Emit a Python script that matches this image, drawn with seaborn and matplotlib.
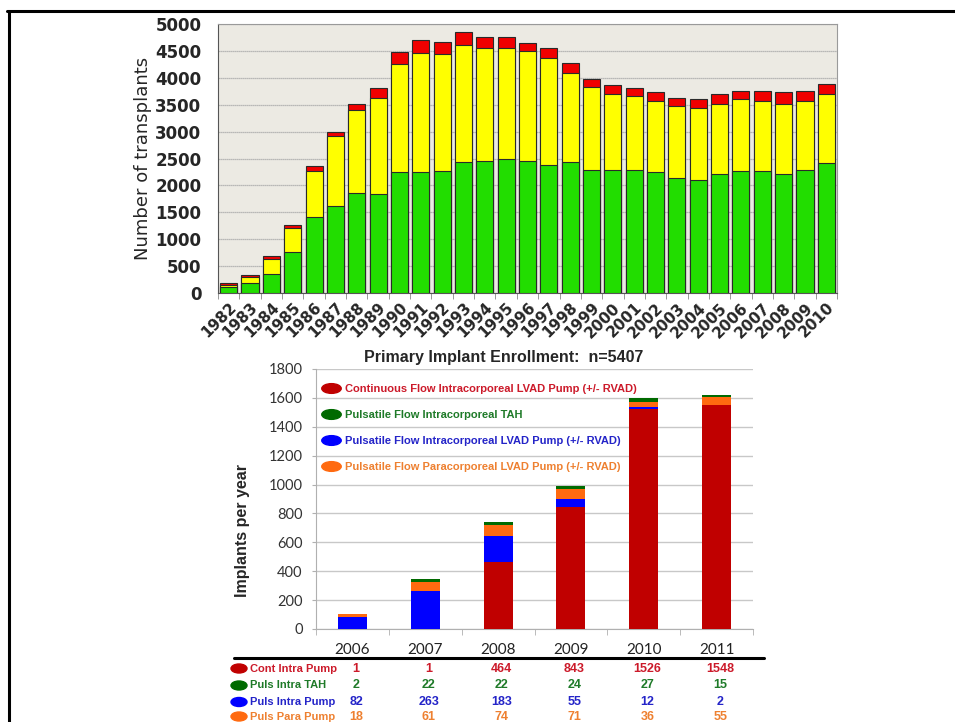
import numpy as np
import seaborn as sns
import matplotlib.pyplot as plt
from matplotlib import font_manager
from matplotlib.lines import Line2D
from matplotlib.patches import Ellipse
from matplotlib.path import Path
from matplotlib.ticker import FixedLocator, MultipleLocator
from matplotlib.transforms import blended_transform_factory

# --- Data: heart transplants per year (top panel) ---
TX_YEARS = ['1982', '1983', '1984', '1985', '1986', '1987', '1988', '1989', '1990',
            '1991', '1992', '1993', '1994', '1995', '1996', '1997', '1998', '1999',
            '2000', '2001', '2002', '2003', '2004', '2005', '2006', '2007', '2008',
            '2009', '2010']
TX_GREEN = [110, 185, 355, 760, 1415, 1625, 1850, 1845, 2250, 2250, 2270, 2440, 2460,
            2485, 2445, 2375, 2430, 2290, 2290, 2290, 2245, 2145, 2100, 2215, 2260,
            2260, 2215, 2295, 2415]
TX_YELLOW = [45, 113, 279, 457, 852, 1294, 1548, 1776, 2011, 2210, 2171, 2169, 2087,
             2068, 2046, 1993, 1667, 1534, 1404, 1373, 1326, 1333, 1334, 1306, 1341,
             1317, 1300, 1282, 1279]
TX_RED = [40, 37, 49, 44, 93, 81, 124, 193, 223, 236, 217, 236, 217, 211, 149, 177,
          185, 161, 167, 155, 160, 154, 174, 179, 161, 185, 216, 185, 186]

# --- Data: INTERMACS implants per year (bottom panel) ---
IMP_YEARS = ['2006', '2007', '2008', '2009', '2010', '2011']
CONT_INTRA_PUMP = [1, 1, 464, 843, 1526, 1548]
PULS_INTRA_TAH = [2, 22, 22, 24, 27, 15]
PULS_INTRA_PUMP = [82, 263, 183, 55, 12, 2]
PULS_PARA_PUMP = [18, 61, 74, 71, 36, 55]

LEGEND_LABELS = ['Continuous Flow Intracorporeal LVAD Pump (+/- RVAD)',
                 'Pulsatile Flow Intracorporeal TAH',
                 'Pulsatile Flow Intracorporeal LVAD Pump (+/- RVAD)',
                 'Pulsatile Flow Paracorporeal LVAD Pump (+/- RVAD)']
TABLE_LABELS = ['Cont Intra Pump', 'Puls Intra TAH', 'Puls Intra Pump', 'Puls Para Pump']

# --- Colours ---
C_GREEN, C_YELLOW, C_RED = '#22DD00', '#FFFF00', '#F00000'
C_CONT, C_TAH, C_PINTRA, C_PPARA = '#C00000', '#006A00', '#0000FF', '#FF6A10'
T_CONT, T_TAH, T_PINTRA, T_PPARA = '#CC1A2A', '#1E7A28', '#2424C8', '#EE8030'

sns.set_style('white')
installed = {f.name for f in font_manager.fontManager.ttflist}
NARROW = 'Liberation Sans Narrow' if 'Liberation Sans Narrow' in installed else 'Liberation Sans'
plt.rcParams['font.family'] = ['DejaVu Sans']

W, H = 955, 722
fig = plt.figure(figsize=(W / 100, H / 100), dpi=100)


def px_box(x0, y0, x1, y1):
    """Figure rectangle from pixel corners (top-left origin)."""
    return [x0 / W, 1 - y1 / H, (x1 - x0) / W, (y1 - y0) / H]


def stacked(ax, cats, layers, colors, width, edge, lw):
    tops = np.cumsum(np.array(layers, dtype=float), axis=0)
    for top, col in reversed(list(zip(tops, colors))):
        sns.barplot(x=cats, y=top, color=col, width=width, saturation=1,
                    edgecolor=edge, linewidth=lw, errorbar=None, ax=ax, zorder=3)


# ---------------- top panel ----------------
ax1 = fig.add_axes(px_box(218, 24, 837, 293))
ax1.set_facecolor('#ECEAE3')
stacked(ax1, TX_YEARS, [TX_GREEN, TX_YELLOW, TX_RED], [C_GREEN, C_YELLOW, C_RED],
        0.8, '#2A2A2A', 0.8)
ax1.set_xlim(-0.5, len(TX_YEARS) - 0.5)
ax1.set_ylim(0, 5000)
ax1.yaxis.set_major_locator(MultipleLocator(500))
ax1.grid(axis='y', color='#A8A8A8', lw=0.9, ls=(0, (1, 0.6)), zorder=0)
ax1.set_axisbelow(True)
for side in ['top', 'right']:
    ax1.spines[side].set_color('#9A9A9A')
for side in ['left', 'bottom']:
    ax1.spines[side].set_color('#555555')
ax1.tick_params(axis='y', length=0, pad=12, labelsize=12)
ax1.tick_params(axis='x', which='major', length=0, pad=5, labelsize=11)
ax1.xaxis.set_minor_locator(FixedLocator(np.arange(-0.5, len(TX_YEARS), 1)))
ax1.tick_params(axis='x', which='minor', length=4, color='#888888', bottom=True)
for lab in ax1.get_yticklabels():
    lab.set_fontweight('bold')
ax1.set_xticks(range(len(TX_YEARS)))
ax1.set_xticklabels(TX_YEARS, rotation=45, ha='right', rotation_mode='anchor',
                    fontweight='bold')
ax1.set_xlabel('')
ax1.set_ylabel('Number of transplants', fontsize=13, labelpad=2)

# ---------------- bottom panel ----------------
ax2 = fig.add_axes(px_box(316, 369, 753, 629))
stacked(ax2, IMP_YEARS, [CONT_INTRA_PUMP, PULS_INTRA_PUMP, PULS_PARA_PUMP, PULS_INTRA_TAH],
        [C_CONT, C_PINTRA, C_PPARA, C_TAH], 0.4, 'none', 0)
ax2.set_xlim(-0.5, len(IMP_YEARS) - 0.5)
ax2.set_ylim(0, 1800)
ax2.yaxis.set_major_locator(MultipleLocator(200))
ax2.grid(axis='y', color='#C8C8C8', lw=1.0, zorder=0)
ax2.set_axisbelow(True)
for side in ['top', 'right']:
    ax2.spines[side].set_visible(False)
for side in ['left', 'bottom']:
    ax2.spines[side].set_color('#B0B0B0')
ax2.tick_params(axis='y', length=3, color='#B0B0B0', pad=6.5, labelsize=10.5,
                labelcolor='#333333', left=True)
ax2.tick_params(axis='x', which='major', length=0, pad=10, labelsize=11,
                labelcolor='#222222')
ax2.xaxis.set_minor_locator(FixedLocator(np.arange(-0.5, len(IMP_YEARS), 1)))
ax2.tick_params(axis='x', which='minor', length=4, color='#B0B0B0', bottom=True)
for lab in ax2.get_yticklabels() + ax2.get_xticklabels():
    lab.set_family('Lato')
ax2.set_xlabel('')
ax2.set_ylabel('Implants per year', fontsize=11.5, fontweight='bold',
               family='Liberation Sans')
ax2.yaxis.set_label_coords(-0.151, 0.38)

fig.text(504 / W, 1 - 358 / H, 'Primary Implant Enrollment:  n=5407', ha='center',
         va='center', fontsize=11.5, fontweight='bold', family='Liberation Sans')

# legend with elliptical markers
circ = Path.unit_circle()
ell = Path(circ.vertices * [1.0, 0.5], circ.codes)
leg_fill = [C_CONT, C_TAH, C_PINTRA, C_PPARA]
leg_text = [T_CONT, T_TAH, T_PINTRA, T_PPARA]
handles = [Line2D([], [], ls='none', marker=ell, markersize=14, color=c) for c in leg_fill]
leg = ax2.legend(handles, LEGEND_LABELS, loc='upper left', bbox_to_anchor=(0.005, 0.96),
                 frameon=False, handlelength=1.5, handletextpad=0.5, labelspacing=1.45,
                 borderaxespad=0, prop={'family': NARROW, 'weight': 'bold', 'size': 8})
for txt, col in zip(leg.get_texts(), leg_text):
    txt.set_color(col)

# table beneath the bottom panel
fig.add_artist(Line2D([234 / W, 764 / W], [1 - 658 / H] * 2, transform=fig.transFigure,
                      color='black', lw=2.2))
row_y = [668.5, 685.5, 702, 716.5]
row_vals = [CONT_INTRA_PUMP, PULS_INTRA_TAH, PULS_INTRA_PUMP, PULS_PARA_PUMP]
col_tr = blended_transform_factory(ax2.transData, fig.transFigure)
for y, lab, vals, fcol, tcol in zip(row_y, TABLE_LABELS, row_vals, leg_fill, leg_text):
    yf = 1 - y / H
    fig.add_artist(Ellipse((239 / W, yf), 16 / W, 9 / H, transform=fig.transFigure,
                           color=fcol))
    fig.text(250 / W, yf, lab, ha='left', va='center', color=tcol, fontsize=8,
             fontweight='bold', family=NARROW)
    for j, v in enumerate(vals):
        ax2.text(j + 0.05, yf, str(v), transform=col_tr, ha='center', va='center',
                 color=tcol, fontsize=9, fontweight='bold', family=NARROW, clip_on=False)

# slide frame
fig.add_artist(Line2D([7 / W, 1], [1 - 10.5 / H] * 2, transform=fig.transFigure,
                      color='black', lw=2.2))
fig.add_artist(Line2D([9 / W, 9 / W], [0, 1 - 10.5 / H], transform=fig.transFigure,
                      color='black', lw=2.2))

fig.savefig('out.png', dpi=100)
